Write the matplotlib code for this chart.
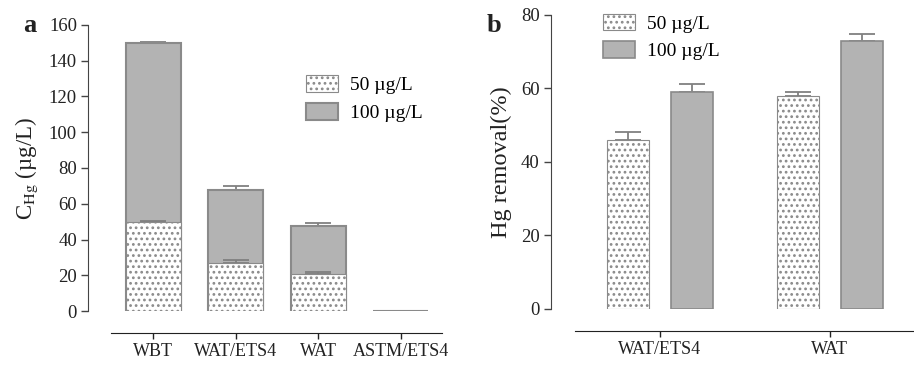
import matplotlib
matplotlib.use("Agg")
import matplotlib.pyplot as plt
import numpy as np

plt.rcParams["font.family"] = ["Liberation Serif", "DejaVu Serif"]
plt.rcParams["mathtext.fontset"] = "stix"
plt.rcParams["hatch.color"] = "#808080"
plt.rcParams["hatch.linewidth"] = 1.2

# panel a: residual Hg concentration
cats_a = ["WBT", "WAT/ETS4", "WAT", "ASTM/ETS4"]
low_a = [50, 27, 21, 0]
low_a_err = [0.5, 1.8, 1.0, 0]
high_a = [150, 67.5, 47.5, 0]
high_a_err = [0.5, 2.5, 2.0, 0]

# panel b: Hg removal
cats_b = ["WAT/ETS4", "WAT"]
low_b = [46, 58]
low_b_err = [2.0, 1.1]
high_b = [59, 73]
high_b_err = [2.3, 1.9]

legend_labels = ["50 µg/L", "100 µg/L"]

GRAY = "#b3b3b3"
EDGE = "#8a8a8a"
TXT = "#222222"

fig = plt.figure(figsize=(9.14, 3.66), dpi=100)
ax1 = fig.add_axes([0.0963, 0.150, 0.387, 0.782])
ax2 = fig.add_axes([0.6025, 0.1566, 0.396, 0.8025])


def style(ax, ylim, yticks, cats, xpos, xlim, xbounds):
    ax.set_ylim(*ylim)
    ax.set_xlim(*xlim)
    ax.set_yticks(yticks)
    ax.set_xticks(xpos)
    ax.set_xticklabels(cats)
    for s in ["top", "right"]:
        ax.spines[s].set_visible(False)
    ax.spines["left"].set_bounds(ylim[0], ylim[1])
    ax.spines["left"].set_color("#444444")
    ax.spines["bottom"].set_position(("outward", 16))
    ax.spines["bottom"].set_bounds(*xbounds)
    ax.spines["bottom"].set_color("#222222")
    ax.tick_params(axis="y", direction="out", length=5, width=1,
                   color="#444444", labelsize=13.5, labelcolor=TXT, pad=3)
    ax.tick_params(axis="x", direction="out", length=4, width=1,
                   color="#222222", labelsize=13, labelcolor=TXT, pad=3)


x_a = np.arange(len(cats_a))
w_a = 0.667
ax1.bar(x_a, high_a, w_a, color=GRAY, edgecolor=EDGE, linewidth=1.5,
        label=legend_labels[1], zorder=2)
ax1.errorbar(x_a[:3], high_a[:3], yerr=[np.zeros(3), high_a_err[:3]],
             fmt="none", ecolor="#808080", elinewidth=1.3, capsize=9.5,
             capthick=1.3, zorder=1)
ax1.bar(x_a[:3], low_a[:3], w_a, color="white", edgecolor=EDGE, hatch="...",
        linewidth=0.8, label=legend_labels[0], zorder=3)
ax1.errorbar(x_a[:3], low_a[:3], yerr=[np.zeros(3), low_a_err[:3]],
             fmt="none", ecolor="#808080", elinewidth=1.3, capsize=9.5,
             capthick=1.3, zorder=2.5)
style(ax1, (0, 160), range(0, 161, 20), cats_a, x_a, (-0.79, 3.5), (-0.51, 3.5))
ax1.set_ylabel(r"C$_{\mathrm{Hg}}$ (µg/L)", fontsize=16.5, color=TXT, labelpad=6)
h, l = ax1.get_legend_handles_labels()
ax1.legend(h[::-1], l[::-1], loc="upper left", bbox_to_anchor=(0.616, 0.825),
           frameon=False, fontsize=14, handlelength=1.65, handleheight=0.95,
           borderpad=0, borderaxespad=0, labelspacing=0.45, handletextpad=0.6)

x_b = np.arange(len(cats_b))
w_b = 0.247
off = 0.188
ax2.bar(x_b - off, low_b, w_b, color="white", edgecolor=EDGE, hatch="...",
        linewidth=0.8, label=legend_labels[0], zorder=3)
ax2.bar(x_b + off, high_b, w_b, color=GRAY, edgecolor=EDGE, linewidth=1.2,
        label=legend_labels[1], zorder=3)
ax2.errorbar(x_b - off, low_b, yerr=[np.zeros(2), low_b_err], fmt="none",
             ecolor="#808080", elinewidth=1.3, capsize=9.5, capthick=1.3, zorder=2)
ax2.errorbar(x_b + off, high_b, yerr=[np.zeros(2), high_b_err], fmt="none",
             ecolor="#808080", elinewidth=1.3, capsize=9.5, capthick=1.3, zorder=2)
style(ax2, (0, 80), range(0, 81, 20), cats_b, x_b, (-0.643, 1.488), (-0.5, 1.488))
ax2.set_ylabel("Hg removal(%)", fontsize=17.5, color=TXT, labelpad=6)
ax2.legend(loc="upper left", bbox_to_anchor=(0.1445, 1.005), frameon=False,
           fontsize=14, handlelength=1.65, handleheight=0.95, borderpad=0,
           borderaxespad=0, labelspacing=0.45, handletextpad=0.6)

fig.text(0.033, 0.93, "a", fontsize=19, fontweight="bold", color=TXT,
         ha="center", va="center")
fig.text(0.541, 0.93, "b", fontsize=19, fontweight="bold", color=TXT,
         ha="center", va="center")

fig.savefig("out.png", dpi=100)
